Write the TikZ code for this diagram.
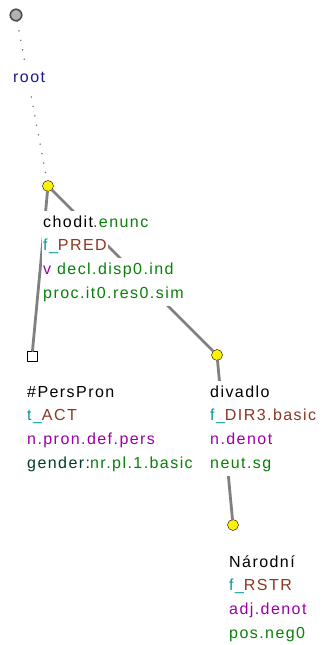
\documentclass[tikz,border=0pt]{standalone}
\usepackage{fontspec}
\newfontfamily\treefont{Liberation Sans}[LetterSpace=9]
\definecolor{lemgreen}{RGB}{10,128,10}
\definecolor{funteal}{RGB}{0,155,155}
\definecolor{funbrown}{RGB}{140,55,35}
\definecolor{sempurple}{RGB}{155,0,165}
\definecolor{rootblue}{RGB}{25,25,150}
\definecolor{gramdark}{RGB}{0,60,45}
\begin{document}
\begin{tikzpicture}[x=1pt,y=-1pt,line join=round,line cap=round]
			\tikzset{every node/.style={font=\treefont\fontsize{16}{19}\selectfont},
				tnode/.style={circle,draw=black,fill=yellow,minimum size=11pt,inner sep=0pt},
				rootnode/.style={circle,draw=black!70,line width=1.6pt,fill=black!30,minimum size=11.5pt,inner sep=0pt},
				qnode/.style={rectangle,draw=black,fill=white,minimum size=10pt,inner sep=0pt},
				txt/.style={anchor=base west,fill=white,inner xsep=1pt,inner ysep=1.5pt,text height=15pt,text depth=6pt},
				edg/.style={draw=black!50,line width=2.8pt},
				rootedg/.style={draw=black!55,line width=1.6pt,dash pattern=on 0.1pt off 9.5pt}}
			\useasboundingbox (0,0) rectangle (325,645);
			\node[rootnode] (root) at (16,15) {};
			\node[tnode] (chodit) at (48,186) {};
			\node[qnode] (perspron) at (32,356) {};
			\node[tnode] (divadlo) at (217,355) {};
			\node[tnode] (narodni) at (233,525) {};
			\draw[rootedg] (root)--(chodit);
			\draw[edg] (chodit)--(perspron);
			\draw[edg] (chodit)--(divadlo);
			\draw[edg] (divadlo)--(narodni);
			\node[txt,text=rootblue] (rootlbl) at (12,82) {root};
			\foreach \txt [count=\i] in {{chodit\textcolor{lemgreen}{.enunc}},
				{\textcolor{funteal}{f\_}\textcolor{funbrown}{PRED}},
				{\textcolor{sempurple}{v} \textcolor{lemgreen}{decl.disp0.ind}},
				{\textcolor{lemgreen}{proc.it0.res0.sim}}}
			\node[txt] (chodit\i) at (42,{227+23.7*(\i-1)}) {\txt};
			\foreach \txt [count=\i] in {{\#PersPron},
				{\textcolor{funteal}{t\_}\textcolor{funbrown}{ACT}},
				{\textcolor{sempurple}{n.pron.def.pers}},
				{\textcolor{gramdark}{gender:}\textcolor{lemgreen}{nr.pl.1.basic}}}
			\node[txt] (perspron\i) at (26,{397+23.7*(\i-1)}) {\txt};
			\foreach \txt [count=\i] in {{divadlo},
				{\textcolor{funteal}{f\_}\textcolor{funbrown}{DIR3.basic}},
				{\textcolor{sempurple}{n.denot}},
				{\textcolor{lemgreen}{neut.sg}}}
			\node[txt] (divadlo\i) at (209,{397+23.7*(\i-1)}) {\txt};
			\foreach \txt [count=\i] in {{Národní},
				{\textcolor{funteal}{f\_}\textcolor{funbrown}{RSTR}},
				{\textcolor{sempurple}{adj.denot}},
				{\textcolor{lemgreen}{pos.neg0}}}
			\node[txt] (narodni\i) at (228,{567+23.7*(\i-1)}) {\txt};
		\end{tikzpicture}
\end{document}
